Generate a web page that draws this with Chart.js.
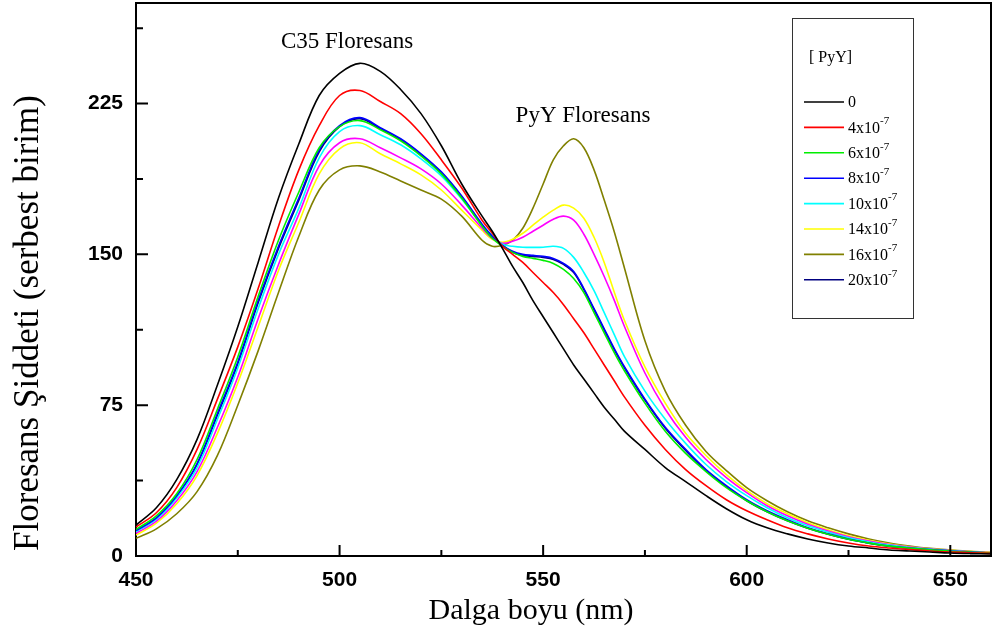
<!DOCTYPE html>
<html>
<head>
<meta charset="utf-8">
<script src="https://cdn.jsdelivr.net/npm/chart.js@4.4.1/dist/chart.umd.min.js"></script>
<style>
  html, body { margin: 0; padding: 0; background: #fff; }
  #wrap { width: 994px; height: 636px; }
</style>
</head>
<body>
<div id="wrap"><canvas id="spectraChart" width="994" height="636"></canvas></div>
<script>
// Wavelength (nm) - denser sampling around the isosbestic point / PyY peak
const wavelengths = [450, 455, 460, 465, 470, 475, 480, 485, 490, 495, 500, 505, 510, 515, 520, 525, 530,
  535, 537.5, 540, 542.5, 545, 547.5, 550, 552.5, 555, 557.5, 560, 562.5, 565, 567.5, 570,
  575, 580, 585, 590, 595, 600, 605, 610, 615, 620, 625, 630, 635, 640, 645, 650, 655, 660];

// Floresans siddeti for each [PyY]
const pyy0 = [15.4, 24, 38, 58, 85, 114, 146, 178, 205, 229, 240, 245, 241, 232, 220, 204, 185,
  169, 161.5, 153, 144, 136, 127, 119, 111, 103, 95, 88, 81, 74, 68, 62,
  53, 44, 37, 30, 23.5, 18, 14, 11, 8.5, 6.5, 5, 4, 3, 2.5, 2, 1.5, 1.2, 1];
const pyy4 = [14.4, 21.5, 34, 53, 78, 104, 133, 164, 192, 214, 229, 231.5, 226, 220, 210, 197, 183,
  167, 160.5, 154, 150, 146, 141, 136, 131, 125, 118, 111, 103, 95, 87, 79,
  65, 53, 43, 35, 28, 22.5, 18, 14, 11, 8.5, 6.5, 5, 4, 3.2, 2.5, 2, 1.6, 1.3];
const pyy6 = [13.2, 20, 31, 48, 73, 99, 129, 157, 181, 203, 213.5, 216.5, 212, 206.5, 199, 190, 178,
  164, 158, 154, 151, 149, 148, 147, 145.5, 142.5, 138, 131, 121, 111, 101, 92,
  76, 62, 51, 42, 34, 27.5, 22, 17.5, 13.8, 10.8, 8.3, 6.4, 4.9, 3.9, 3.1, 2.4, 1.9, 1.5];
const pyy8 = [12.6, 19, 30, 46, 71, 96.5, 127, 154, 178, 202, 214, 218, 213, 207.5, 200, 191, 179,
  165, 159, 154.5, 151.5, 150, 149.5, 149, 148, 145.5, 141.5, 133, 123, 113, 103, 94,
  78, 64, 53, 43, 35, 28, 22.5, 18, 14, 11, 8.5, 6.5, 5, 4, 3.2, 2.5, 2, 1.5];
const pyy10 = [12.1, 18.3, 29, 44, 68, 93.5, 123, 150, 173, 198, 211, 214, 209.5, 204.5, 197.5, 189, 177.5,
  164.5, 159.5, 155, 154, 153.5, 153.5, 153.5, 154, 153, 148.5, 141, 132, 121, 110, 99,
  82, 68, 56, 45.5, 37, 30, 24, 19, 15, 11.8, 9, 7, 5.4, 4.2, 3.3, 2.6, 2, 1.5];
const pyy12 = [11.3, 17.3, 27.5, 42, 64, 89, 118, 145, 170, 194, 205.5, 207.5, 203, 198, 192.5, 185, 174.5,
  163, 158, 155.5, 156.5, 158.5, 161.5, 164.5, 167.5, 169, 167, 160, 150, 139, 127, 114,
  91, 73, 59, 48, 39, 31.5, 25, 20, 15.8, 12.4, 9.6, 7.4, 5.7, 4.4, 3.4, 2.7, 2.1, 1.6];
const pyy14 = [10.4, 16.3, 26, 40, 61, 86, 114, 142, 166, 190, 202.5, 205.5, 200, 195, 189.5, 182, 172,
  162, 157.5, 156, 157.5, 160.5, 164.5, 168.5, 172, 174.5, 173, 168, 158.5, 146, 131, 117,
  94, 76, 61, 50, 40.5, 32.5, 26, 21, 16.5, 13, 10, 7.8, 6, 4.6, 3.6, 2.8, 2.2, 1.7];
const pyy16 = [8.8, 13.5, 21, 32, 50, 75, 102, 131, 159, 182, 192, 194, 191, 186.5, 182, 177.5, 169,
  157, 154, 154.5, 157, 163, 173, 185, 197, 204, 207.5, 203, 192, 177, 161, 143,
  107, 82, 65, 52, 42.5, 34, 27.5, 22, 17.5, 14, 11, 8.5, 6.5, 5, 3.8, 3, 2.3, 1.8];
const pyy20 = [12.4, 18.7, 29.5, 45.5, 70, 95.5, 126, 153, 177, 201, 213.5, 217.5, 212.5, 207, 199.5, 190.5, 178.5,
  164.5, 158.5, 154.5, 151, 149.5, 149, 148.5, 147.5, 145, 141, 132.5, 122.5, 112.5, 102.5, 93.5,
  77.5, 63.5, 52.5, 42.5, 34.5, 27.5, 22, 17.5, 13.8, 10.8, 8.3, 6.4, 4.9, 3.9, 3.1, 2.4, 1.9, 1.5];

const xTicks = [450, 500, 550, 600, 650];
const xMinorTicks = [475, 525, 575, 625];
const yTicks = [0, 75, 150, 225];
const yMinorTicks = [37.5, 112.5, 187.5, 262.5];

// legend: base text + exponent ('' = none); null = not in legend
const seriesLabels = ['0', '4x10', '6x10', '8x10', '10x10', null, '14x10', '16x10', '20x10'];
const seriesExp = ['', '-7', '-7', '-7', '-7', '', '-7', '-7', '-7'];
const seriesColors = ['#000000', '#ff0000', '#00ee00', '#0000ff', '#00ffff', '#ff00ff', '#ffff00', '#808000', '#000080'];
const seriesValues = [pyy0, pyy4, pyy6, pyy8, pyy10, pyy12, pyy14, pyy16, pyy20];

const datasets = seriesValues.map((vals, i) => ({
  label: seriesLabels[i] === null ? '' : seriesLabels[i] + seriesExp[i],
  data: wavelengths.map((w, j) => ({ x: w, y: vals[j] })),
  borderColor: seriesColors[i],
  backgroundColor: seriesColors[i],
  borderWidth: 1.6,
  pointRadius: 0,
  fill: false,
  tension: 0.35,
}));

const serif = "'Liberation Serif', 'Times New Roman', serif";
const tickFont = { family: "'Liberation Sans', Arial, sans-serif", size: 21, weight: 'bold' };

// inward tick marks, frame, annotations, custom legend
const decorPlugin = {
  id: 'decor',
  afterDraw(chart) {
    const ctx = chart.ctx;
    const area = chart.chartArea;
    const xs = chart.scales.x;
    const ys = chart.scales.y;
    ctx.save();
    ctx.strokeStyle = '#000';
    ctx.lineWidth = 2;
    // top + right frame
    ctx.beginPath();
    ctx.moveTo(area.left, area.top);
    ctx.lineTo(area.right, area.top);
    ctx.lineTo(area.right, area.bottom);
    ctx.stroke();
    // ticks
    ctx.beginPath();
    xTicks.forEach(v => { const px = xs.getPixelForValue(v); ctx.moveTo(px, area.bottom); ctx.lineTo(px, area.bottom - 11); });
    xMinorTicks.forEach(v => { const px = xs.getPixelForValue(v); ctx.moveTo(px, area.bottom); ctx.lineTo(px, area.bottom - 6); });
    yTicks.forEach(v => { const py = ys.getPixelForValue(v); ctx.moveTo(area.left, py); ctx.lineTo(area.left + 12, py); });
    yMinorTicks.forEach(v => { const py = ys.getPixelForValue(v); ctx.moveTo(area.left, py); ctx.lineTo(area.left + 7, py); });
    ctx.stroke();

    // axis titles
    ctx.fillStyle = '#000';
    ctx.textAlign = 'center';
    ctx.textBaseline = 'middle';
    ctx.font = '30px ' + serif;
    ctx.fillText('Dalga boyu (nm)', 531, 611);
    ctx.save();
    ctx.translate(29, 323);
    ctx.rotate(-Math.PI / 2);
    ctx.font = '35px ' + serif;
    ctx.fillText('Floresans Şiddeti (serbest birim)', 0, 0);
    ctx.restore();

    // peak annotations
    ctx.font = '23px ' + serif;
    ctx.fillText('C35 Floresans', 347, 42);
    ctx.fillText('PyY Floresans', 583, 116);

    // legend box
    ctx.lineWidth = 1;
    ctx.strokeStyle = '#333';
    ctx.strokeRect(792.5, 18.5, 121, 300);
    ctx.textAlign = 'left';
    ctx.font = '16px ' + serif;
    ctx.fillText('[ PyY]', 809, 58);
    let row = 0;
    chart.data.datasets.forEach((ds, i) => {
      if (seriesLabels[i] === null) return;
      const y = 102 + row * 25.4;
      ctx.strokeStyle = seriesColors[i];
      ctx.lineWidth = 1.6;
      ctx.beginPath();
      ctx.moveTo(804, y);
      ctx.lineTo(844, y);
      ctx.stroke();
      ctx.font = '16px ' + serif;
      ctx.fillStyle = '#000';
      ctx.fillText(seriesLabels[i], 848, y + 1);
      if (seriesExp[i]) {
        const w = ctx.measureText(seriesLabels[i]).width;
        ctx.font = '11px ' + serif;
        ctx.fillText(seriesExp[i], 848 + w, y - 6);
      }
      row++;
    });
    ctx.restore();
  }
};

new Chart(document.getElementById('spectraChart').getContext('2d'), {
  type: 'line',
  data: { datasets },
  options: {
    responsive: false,
    animation: false,
    layout: { padding: { left: 0, top: 3, right: 3, bottom: 0 } },
    plugins: {
      legend: { display: false },
      tooltip: { enabled: false },
      title: { display: false },
    },
    scales: {
      x: {
        type: 'linear',
        min: 450,
        max: 660,
        afterFit: s => { s.height = 80; s.paddingLeft = 0; s.paddingRight = 0; },
        afterBuildTicks: s => { s.ticks = xTicks.map(v => ({ value: v })); },
        grid: { display: false, drawTicks: false },
        border: { display: true, color: '#000', width: 2 },
        ticks: { padding: 12, maxRotation: 0, color: '#000', font: tickFont },
      },
      y: {
        min: 0,
        max: 275,
        afterFit: s => { s.width = 136; s.paddingTop = 0; s.paddingBottom = 0; },
        afterBuildTicks: s => { s.ticks = yTicks.map(v => ({ value: v })); },
        grid: { display: false, drawTicks: false },
        border: { display: true, color: '#000', width: 2 },
        ticks: { padding: 13, color: '#000', font: tickFont },
      },
    },
  },
  plugins: [decorPlugin],
});
</script>
</body>
</html>
